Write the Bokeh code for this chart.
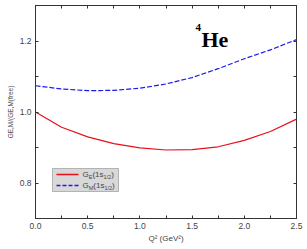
from bokeh.plotting import figure
from bokeh.models import (Range1d, LinearAxis, Label, FixedTicker, Arrow, BoxAnnotation,
                          PrintfTickFormatter, CustomJSTickFormatter)
from bokeh.embed import file_html
from bokeh.resources import INLINE

# ---- data ----
q2 = [0.0, 0.25, 0.5, 0.75, 1.0, 1.25, 1.5, 1.75, 2.0, 2.25, 2.5]
ge_ratio = [1.000, 0.957, 0.930, 0.911, 0.899, 0.893, 0.894, 0.902, 0.920, 0.945, 0.980]
gm_ratio = [1.074, 1.065, 1.060, 1.061, 1.067, 1.079, 1.097, 1.122, 1.150, 1.175, 1.204]
x_major = [0.0, 0.5, 1.0, 1.5, 2.0, 2.5]
x_minor = [0.25, 0.75, 1.25, 1.75, 2.25]
y_major = [0.8, 1.0, 1.2]
y_minor = [0.7, 0.9, 1.1, 1.3]

AXC = "#333333"
TXT = "#444444"
SANS = "Liberation Sans"
SERIF = "Liberation Serif"
RED = "#e8101a"
BLUE = "#1a1aee"

p = figure(width=307, height=249, output_backend="svg", toolbar_location=None,
           x_range=Range1d(0, 2.5), y_range=Range1d(0.7, 1.3),
           min_border_left=35, min_border_right=11, min_border_top=5, min_border_bottom=31,
           background_fill_color="white", border_fill_color="white")
p.grid.visible = False
p.outline_line_color = AXC

p.line(q2, ge_ratio, line_color=RED, line_width=1.2)
p.line(q2, gm_ratio, line_color=BLUE, line_width=1.2, line_dash="5 2")

def style_axis(ax, labels=True):
    ax.axis_line_color = AXC
    ax.major_tick_line_color = AXC
    ax.minor_tick_line_color = AXC
    ax.major_tick_in = 3
    ax.major_tick_out = 0
    ax.minor_tick_in = 3
    ax.minor_tick_out = 0
    ax.major_label_text_font = SANS
    ax.major_label_text_font_size = "8.5px"
    ax.major_label_text_color = TXT
    if labels:
        ax.major_label_standoff = 4
        ax.formatter = PrintfTickFormatter(format="%.1f")
    else:
        ax.major_label_standoff = 0
        ax.formatter = CustomJSTickFormatter(code="return ''")

xa = p.xaxis[0]
xa.ticker = FixedTicker(ticks=x_major, minor_ticks=x_minor)
style_axis(xa)
xa.axis_label = "Q² (GeV²)"
xa.axis_label_text_font = SANS
xa.axis_label_text_font_size = "8px"
xa.axis_label_text_font_style = "normal"
xa.axis_label_text_color = TXT
xa.axis_label_standoff = 2

ya = p.yaxis[0]
ya.ticker = FixedTicker(ticks=y_major, minor_ticks=y_minor)
style_axis(ya)
ya.axis_label = "GE,M/(GE,M(free)"
ya.axis_label_text_font = SANS
ya.axis_label_text_font_size = "6.5px"
ya.axis_label_text_font_style = "normal"
ya.axis_label_text_color = TXT
ya.axis_label_standoff = 3

top = LinearAxis(ticker=FixedTicker(ticks=x_major, minor_ticks=x_minor))
style_axis(top, labels=False)
p.add_layout(top, "above")
right = LinearAxis(ticker=FixedTicker(ticks=y_major, minor_ticks=y_minor))
style_axis(right, labels=False)
p.add_layout(right, "right")

# legend box (screen units, relative to the plot frame)
p.add_layout(BoxAnnotation(left=17, right=83, bottom=27, top=50,
                           left_units="screen", right_units="screen",
                           bottom_units="screen", top_units="screen",
                           fill_color="#d8d8d8", fill_alpha=1.0,
                           line_color=AXC, line_width=1, level="annotation"))
p.add_layout(Arrow(x_start=21, y_start=44, x_end=43, y_end=44, start_units="screen",
                   end_units="screen", end=None, line_color=RED, line_width=1.3,
                   level="overlay"))
p.add_layout(Arrow(x_start=21, y_start=33, x_end=43, y_end=33, start_units="screen",
                   end_units="screen", end=None, line_color=BLUE, line_width=1.3,
                   line_dash="4 2", level="overlay"))

# approximate advance widths (Arial-like metrics, em units)
W = {"G": 0.778, "E": 0.667, "M": 0.833, ",": 0.278, "(": 0.333, ")": 0.333,
     "1": 0.556, "2": 0.556, "/": 0.278, "s": 0.5}

def tw(s, size):
    return sum(W.get(c, 0.55) for c in s) * size

def add_run(pieces, x0, y0):
    pos = x0
    for txt, size, shift in pieces:
        p.add_layout(Label(x=pos, y=y0 - shift, x_units="screen", y_units="screen", text=txt,
                           text_font=SANS, text_font_size=f"{size}px", text_color=TXT,
                           text_align="left", text_baseline="middle", level="overlay"))
        pos += tw(txt, size)

MAIN, SUB = 8, 5.5
add_run([("G", MAIN, 0), ("E", SUB, 2), ("(1s", MAIN, 0), ("1/2", SUB, 2), (")", MAIN, 0)], 47, 44)
add_run([("G", MAIN, 0), ("M", SUB, 2), ("(1s", MAIN, 0), ("1/2", SUB, 2), (")", MAIN, 0)], 47, 33)

# nucleus label
p.add_layout(Label(x=160, y=195, x_units="screen", y_units="screen", text="4",
                   text_font=SERIF, text_font_size="11px", text_font_style="bold",
                   text_color="black", text_align="left", text_baseline="top"))
p.add_layout(Label(x=166, y=179.5, x_units="screen", y_units="screen", text="He",
                   text_font=SERIF, text_font_size="22px", text_font_style="bold",
                   text_color="black", text_align="left", text_baseline="alphabetic"))

open("out.html", "w").write(file_html(p, INLINE))
